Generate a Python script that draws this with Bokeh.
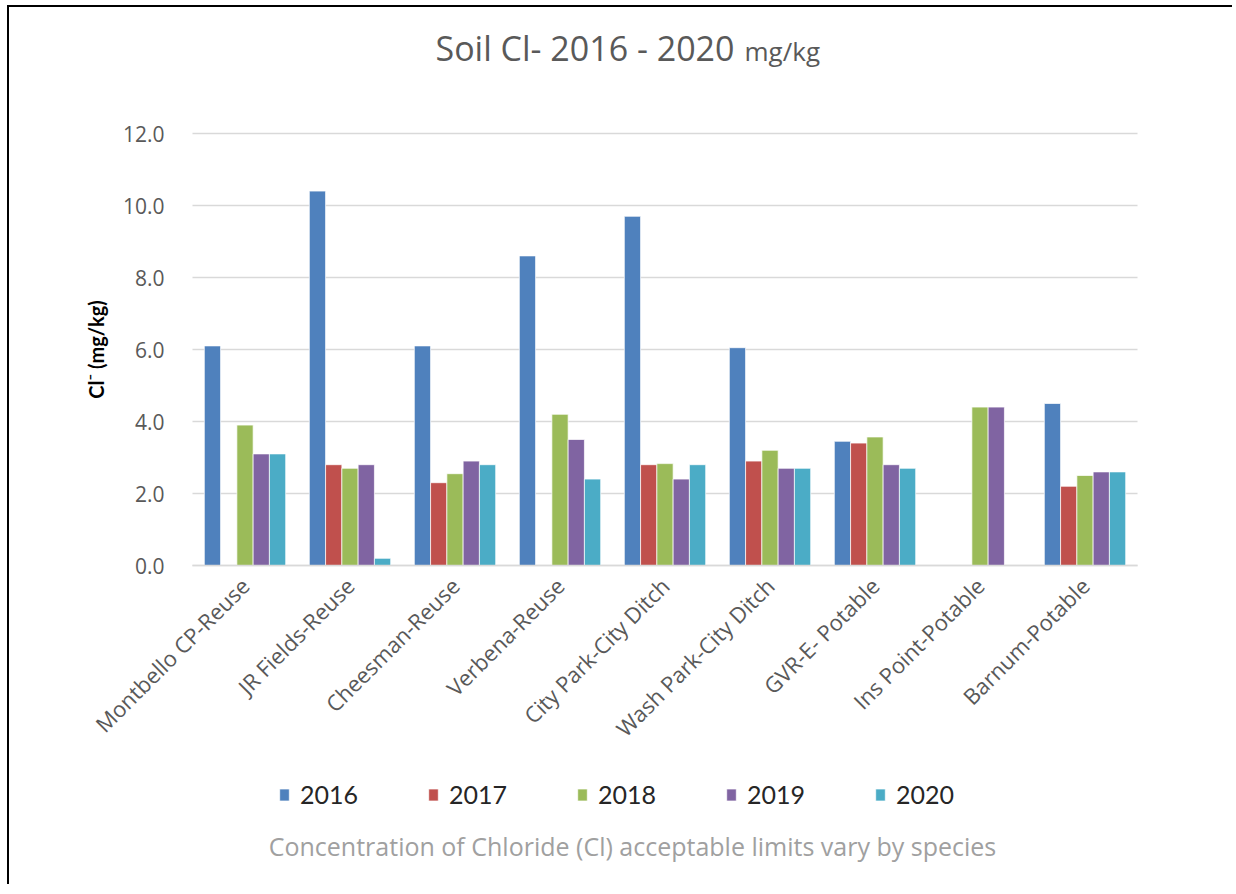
import math
from bokeh.plotting import figure
from bokeh.models import (ColumnDataSource, Legend, LegendItem, Label, Range1d,
                          FixedTicker, NumeralTickFormatter)
from bokeh.transform import dodge
from bokeh.embed import file_html
from bokeh.resources import INLINE

NaN = float("nan")

sites = ["Montbello CP-Reuse", "JR Fields-Reuse", "Cheesman-Reuse", "Verbena-Reuse",
         "City Park-City Ditch", "Wash Park-City Ditch", "GVR-E- Potable",
         "Ins Point-Potable", "Barnum-Potable"]
years = ["2016", "2017", "2018", "2019", "2020"]
y2016 = [6.1, 10.4, 6.1, 8.6, 9.7, 6.05, 3.45, NaN, 4.5]
y2017 = [NaN, 2.8, 2.3, NaN, 2.8, 2.9, 3.4, NaN, 2.2]
y2018 = [3.9, 2.7, 2.55, 4.2, 2.83, 3.2, 3.57, 4.4, 2.5]
y2019 = [3.1, 2.8, 2.9, 3.5, 2.4, 2.7, 2.8, 4.4, 2.6]
y2020 = [3.1, 0.2, 2.8, 2.4, 2.8, 2.7, 2.7, NaN, 2.6]
colors = ["#4F81BD", "#C0504D", "#9BBB59", "#8064A2", "#4BACC6"]
y_ticks = [0, 2, 4, 6, 8, 10, 12]

# category slot centres (slot i spans [i, i+1])
xpos = [i + 0.5 for i in range(len(sites))]
source = ColumnDataSource(dict(x=xpos, site=sites, y2016=y2016, y2017=y2017,
                               y2018=y2018, y2019=y2019, y2020=y2020))

# page offset of the canvas (black frame lines drawn left / top of it)
OX, OY = 9, 7
XR, YB = 1234, 886                   # right / bottom edge of the canvas in the page
W, H = XR - OX, YB - OY
# plot area in image pixels
FL, FR, Y0, Y12 = 192, 1137, 565, 133
PY = (Y0 - Y12) / 12.0               # pixels per y unit
PXU = (FR - FL) / len(sites)         # pixels per category slot


def xd(px):
    return (px - FL) / PXU


def yd(py):
    return (Y0 - py) / PY


p = figure(x_range=Range1d(xd(OX), xd(XR)), y_range=Range1d(yd(YB), yd(OY)),
           width=W, height=H, output_backend="svg", toolbar_location=None,
           min_border_left=0, min_border_right=0, min_border_top=0, min_border_bottom=0)
p.background_fill_color = "white"
p.border_fill_color = "white"
p.outline_line_color = None
p.styles = {"margin-left": f"{OX}px", "margin-top": f"{OY}px", "margin-bottom": "-40px",
            "box-shadow": "-2px -2px 0 0 #000"}

# horizontal gridlines across the plot area only
p.segment(x0=0, x1=len(sites), y0=y_ticks, y1=y_ticks,
          line_color="#D9D9D9", line_width=1.5)

bw = 0.155
renderers = []
for i, (yr, col) in enumerate(zip(years, colors)):
    r = p.vbar(x=dodge("x", (i - 2) * bw), top="y" + yr, bottom=0,
               width=bw, source=source, fill_color=col, line_color="white",
               line_alpha=0.7, line_width=1)
    renderers.append(r)

# y axis
p.yaxis.fixed_location = 0
p.yaxis.bounds = (0, 12)
p.yaxis.ticker = FixedTicker(ticks=y_ticks)
p.yaxis.formatter = NumeralTickFormatter(format="0.0")
p.yaxis.axis_line_color = None
p.yaxis.major_tick_line_color = None
p.yaxis.minor_tick_line_color = None
p.yaxis.major_label_text_font = "Open Sans"
p.yaxis.major_label_text_font_size = "21px"
p.yaxis.major_label_text_color = "#595959"
p.yaxis.major_label_standoff = 22
p.yaxis.axis_label = "Cl\u207b (mg/kg)"
p.yaxis.axis_label_text_font = "Lato"
p.yaxis.axis_label_text_font_style = "bold"
p.yaxis.axis_label_text_font_size = "20px"
p.yaxis.axis_label_text_color = "#000000"
p.yaxis.axis_label_standoff = 12

# x axis
p.xaxis.fixed_location = 0
p.xaxis.bounds = (0, len(sites))
p.xaxis.ticker = FixedTicker(ticks=xpos)
p.xaxis.major_label_overrides = {x: s for x, s in zip(xpos, sites)}
p.xaxis.axis_line_color = "#D9D9D9"
p.xaxis.axis_line_width = 1.5
p.xaxis.major_tick_line_color = None
p.xaxis.minor_tick_line_color = None
p.xaxis.major_label_orientation = math.pi / 4
p.xaxis.major_label_text_font = "Open Sans"
p.xaxis.major_label_text_font_size = "22px"
p.xaxis.major_label_text_color = "#595959"
p.xaxis.major_label_standoff = 10

p.xgrid.grid_line_color = None
p.ygrid.grid_line_color = None

# legend (location: screen px from frame bottom-left)
legend = Legend(items=[LegendItem(label=yr, renderers=[r]) for yr, r in zip(years, renderers)],
                orientation="horizontal", location=(278 - OX, YB - 809),
                glyph_width=12, glyph_height=15, label_standoff=10, label_width=127,
                spacing=0, padding=0, margin=0,
                border_line_color=None, background_fill_alpha=0,
                label_text_font="Lato", label_text_font_size="25px",
                label_text_color="#262626")
p.add_layout(legend, "center")

# title
p.add_layout(Label(x=xd(734), y=yd(47), text="Soil Cl- 2016 - 2020",
                   text_align="right", text_baseline="middle",
                   text_font="Open Sans", text_font_size="34px", text_color="#595959"))
p.add_layout(Label(x=xd(744), y=yd(50), text="mg/kg",
                   text_align="left", text_baseline="middle",
                   text_font="Open Sans", text_font_size="26px", text_color="#595959"))
# caption
p.add_layout(Label(x=xd(632), y=yd(845),
                   text="Concentration of Chloride (Cl) acceptable limits vary by species",
                   text_align="center", text_baseline="middle",
                   text_font="Open Sans", text_font_size="25px", text_color="#A0A0A0"))

open("out.html", "w").write(file_html(p, INLINE))
